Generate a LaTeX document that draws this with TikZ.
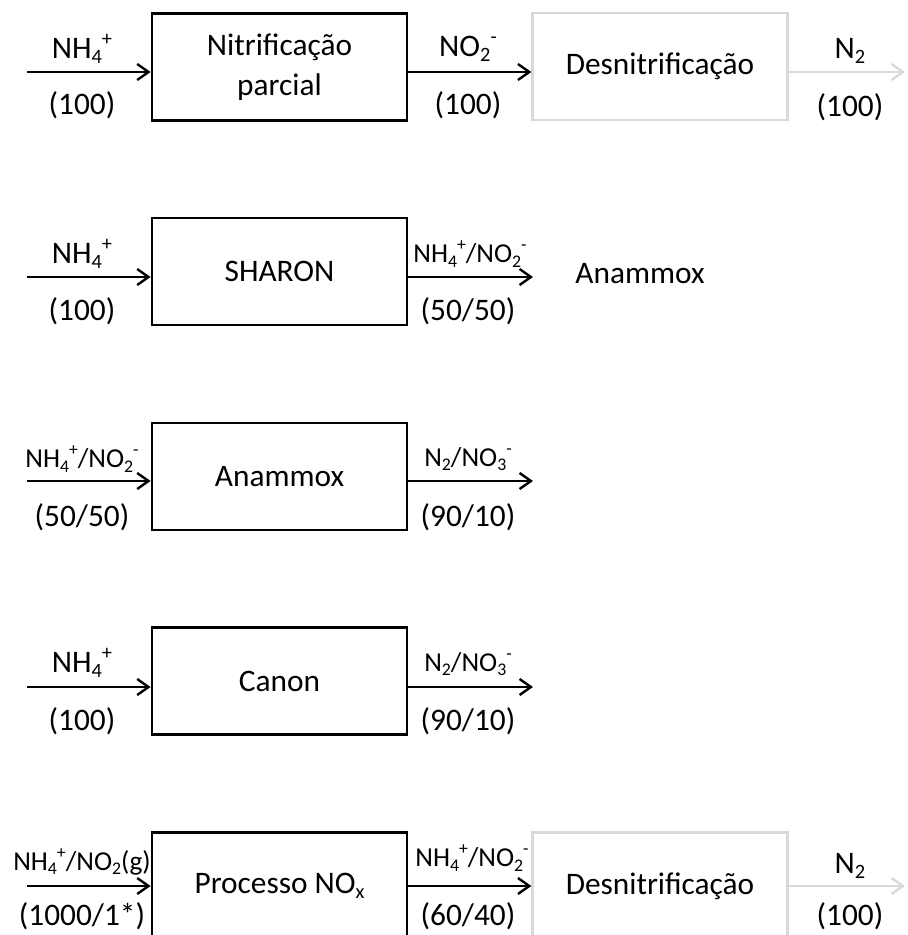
\documentclass[tikz,border=0pt]{standalone}
\usepackage{fontspec}
\setmainfont{Carlito}
\usetikzlibrary{arrows.meta}
\definecolor{lgray}{HTML}{D9D9D9}
\newcommand\sbs[1]{\raisebox{-0.35ex}{\scalebox{0.65}{#1}}}
\newcommand\sps[1]{\raisebox{0.9ex}{\scalebox{0.65}{#1}}}
\begin{document}
\begin{tikzpicture}[x=0.75pt,y=-0.75pt,
  box/.style={draw=black,line width=2.1pt,minimum width=191.25pt,minimum height=80.25pt,inner sep=0pt,align=center,font=\fontsize{23.5}{28}\selectfont},
  gbox/.style={box,draw=lgray,line width=1.7pt},
  lbl/.style={inner sep=0pt,font=\fontsize{23.5}{28}\selectfont},
  slbl/.style={inner sep=0pt,font=\fontsize{20.5}{24}\selectfont},
  arr/.style={line width=2.1pt,-{Straight Barb[length=8.5pt,width=12pt,line width=1.8pt]}},
  garr/.style={arr,draw=lgray}]
\clip (0,0) rectangle (907,935);
\useasboundingbox (0,0) rectangle (907,935);

% Row 1
\node[box] (b1) at (279.5,67) {Nitrificação\\[2pt]parcial};
\node[gbox] (d1) at (660,66.5) {Desnitrificação};
\coordinate (s1) at (27,72);
\coordinate (e1) at (905,72);
\draw[arr] (s1) -- (s1 -| b1.west);
\draw[arr] (b1.east |- s1) -- (d1.west |- s1);
\draw[garr] (d1.east |- s1) -- (e1);
\node[lbl] (l1a) at (82,49) {NH\sbs{4}\sps{+}};
\node[lbl] (l1b) at (82,105) {(100)};
\node[lbl] (l1c) at (468,49) {NO\sbs{2}\sps{-}};
\node[lbl] (l1d) at (468,105) {(100)};
\node[lbl] (l1e) at (850,51) {N\sbs{2}};
\node[lbl] (l1f) at (850,107) {(100)};

% Row 2
\node[box] (b2) at (279.5,271.5) {SHARON};
\coordinate (s2) at (27,277);
\node[lbl] (t2) at (640,274) {Anammox};
\draw[arr] (s2) -- (s2 -| b2.west);
\coordinate (e2) at (533,277);
\draw[arr] (b2.east |- s2) -- (e2);
\node[lbl] (l2a) at (82,254) {NH\sbs{4}\sps{+}};
\node[lbl] (l2b) at (82,311) {(100)};
\node[slbl] (l2c) at (470,254) {NH\sbs{4}\sps{+}/NO\sbs{2}\sps{-}};
\node[lbl] (l2d) at (468,311) {(50/50)};

% Row 3
\node[box] (b3) at (279.5,476.5) {Anammox};
\coordinate (s3) at (27,481);
\coordinate (e3) at (533,481);
\draw[arr] (s3) -- (s3 -| b3.west);
\draw[arr] (b3.east |- s3) -- (e3);
\node[slbl] (l3a) at (82,459) {NH\sbs{4}\sps{+}/NO\sbs{2}\sps{-}};
\node[lbl] (l3b) at (82,517) {(50/50)};
\node[slbl] (l3c) at (468,459) {N\sbs{2}/NO\sbs{3}\sps{-}};
\node[lbl] (l3d) at (468,517) {(90/10)};

% Row 4
\node[box] (b4) at (279.5,681) {Canon};
\coordinate (s4) at (27,687);
\coordinate (e4) at (533,687);
\draw[arr] (s4) -- (s4 -| b4.west);
\draw[arr] (b4.east |- s4) -- (e4);
\node[lbl] (l4a) at (82,663) {NH\sbs{4}\sps{+}};
\node[lbl] (l4b) at (82,721) {(100)};
\node[slbl] (l4c) at (468,664) {N\sbs{2}/NO\sbs{3}\sps{-}};
\node[lbl] (l4d) at (468,721) {(90/10)};

% Row 5
\node[box] (b5) at (279.5,886) {Processo NO\sbs{x}};
\node[gbox] (d5) at (660,886) {Desnitrificação};
\coordinate (s5) at (27,886);
\coordinate (e5) at (905,886);
\draw[arr] (s5) -- (s5 -| b5.west);
\draw[arr] (b5.east |- s5) -- (d5.west |- s5);
\draw[garr] (d5.east |- s5) -- (e5);
\node[slbl] (l5a) at (82,862) {NH\sbs{4}\sps{+}/NO\sbs{2}(g)};
\node[lbl] (l5b) at (82,916) {(1000/1*)};
\node[slbl] (l5c) at (472,858) {NH\sbs{4}\sps{+}/NO\sbs{2}\sps{-}};
\node[lbl] (l5d) at (468,916) {(60/40)};
\node[lbl] (l5e) at (850,866) {N\sbs{2}};
\node[lbl] (l5f) at (850,916) {(100)};
\end{tikzpicture}
\end{document}
